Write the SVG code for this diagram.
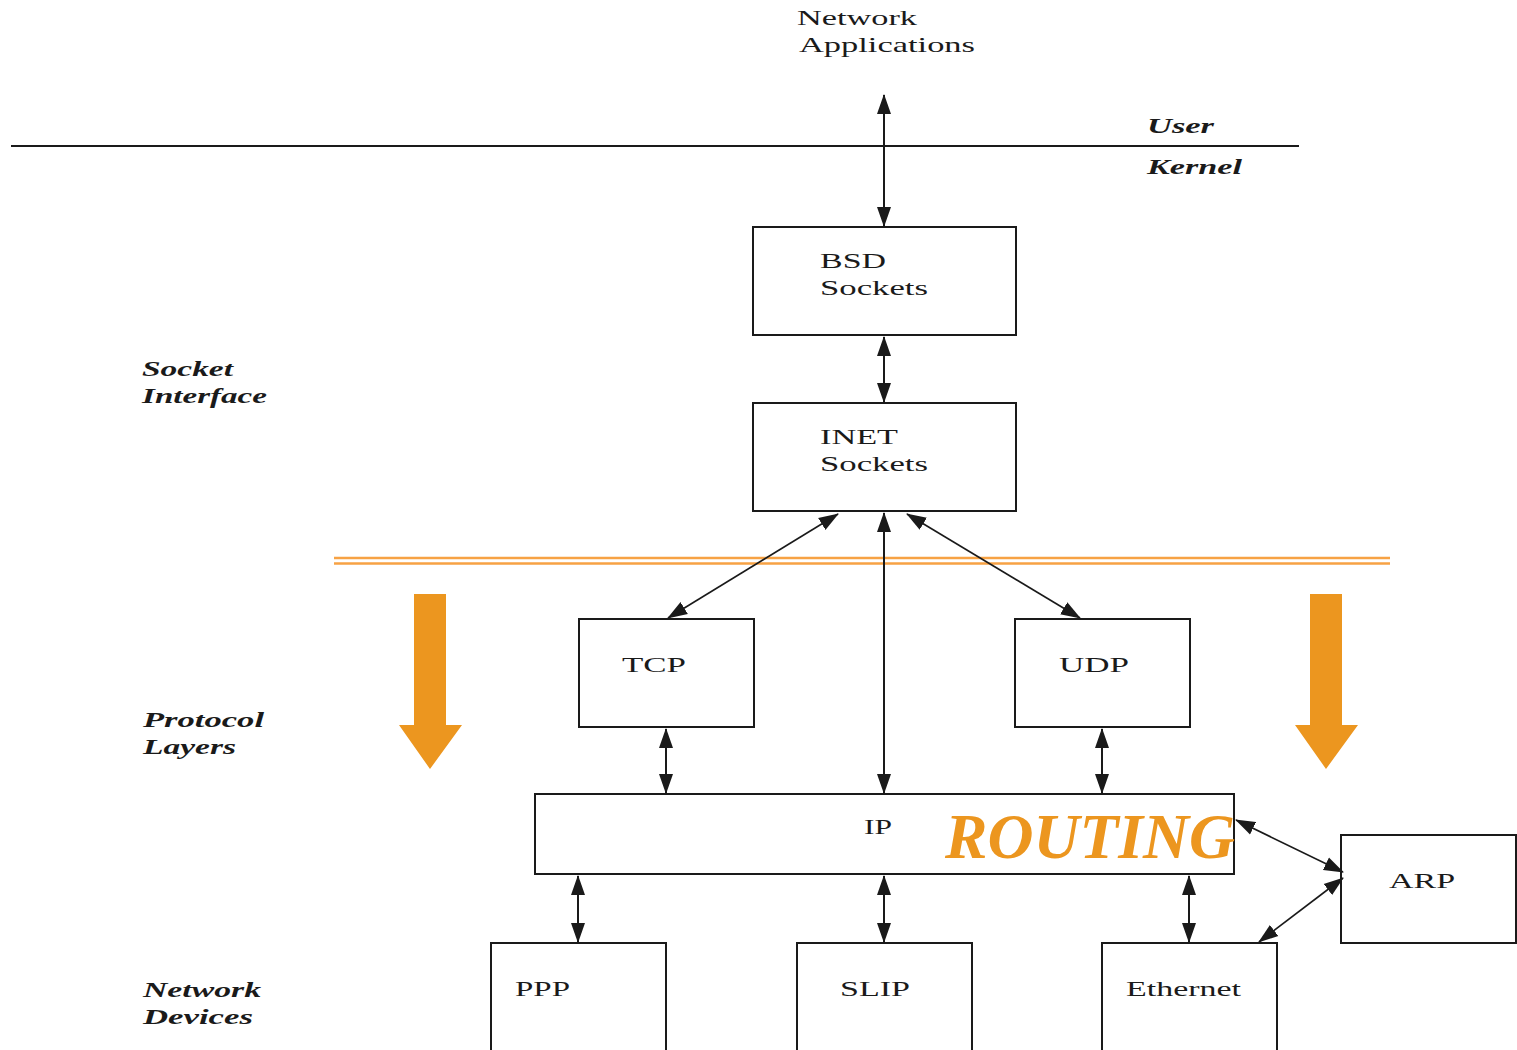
<svg xmlns="http://www.w3.org/2000/svg" width="1517" height="1050" viewBox="0 0 1517 1050">
<style>
.box{fill:#fff;stroke:#1a1a1a;stroke-width:2}
.t{font-family:"Liberation Serif",serif;font-size:22px;fill:#1a1a1a}
.it{font-family:"Liberation Serif",serif;font-style:italic;font-weight:bold;font-size:22px;fill:#1a1a1a}
.c{stroke:#1a1a1a;stroke-width:2;fill:none;marker-start:url(#ah);marker-end:url(#ah)}
.d{stroke:#1a1a1a;stroke-width:1.6;fill:none;marker-start:url(#ah);marker-end:url(#ah)}
.or{fill:#EC961F}
</style>
<defs>
<marker id="ah" markerUnits="userSpaceOnUse" markerWidth="20" markerHeight="16" refX="19" refY="8" orient="auto-start-reverse" viewBox="0 0 20 16">
<path d="M0,1 L20,8 L0,15 z" fill="#1a1a1a"/>
</marker>
</defs>
<rect width="1517" height="1050" fill="#fff"/>

<g id="boundary">
<line x1="11" y1="146" x2="1299" y2="146" stroke="#1a1a1a" stroke-width="1.8"/>
<text class="it" x="1147" y="133" textLength="67" lengthAdjust="spacingAndGlyphs">User</text>
<text class="it" x="1147" y="174" textLength="95" lengthAdjust="spacingAndGlyphs">Kernel</text>
</g>

<g id="orange-lines">
<line x1="334" y1="558" x2="1390" y2="558" stroke="#F7A244" stroke-width="2.5"/>
<line x1="334" y1="563.5" x2="1390" y2="563.5" stroke="#F7A244" stroke-width="2.5"/>
</g>

<g id="labels">
<text class="t" x="797" y="25" textLength="120" lengthAdjust="spacingAndGlyphs">Network</text>
<text class="t" x="799" y="52" textLength="176" lengthAdjust="spacingAndGlyphs">Applications</text>
<text class="it" x="142" y="376" textLength="91" lengthAdjust="spacingAndGlyphs">Socket</text>
<text class="it" x="142" y="403" textLength="125" lengthAdjust="spacingAndGlyphs">Interface</text>
<text class="it" x="143" y="727" textLength="121" lengthAdjust="spacingAndGlyphs">Protocol</text>
<text class="it" x="143" y="754" textLength="93" lengthAdjust="spacingAndGlyphs">Layers</text>
<text class="it" x="143" y="997" textLength="118" lengthAdjust="spacingAndGlyphs">Network</text>
<text class="it" x="143" y="1024" textLength="110" lengthAdjust="spacingAndGlyphs">Devices</text>
</g>

<g id="bsd">
<rect class="box" x="753" y="227" width="263" height="108"/>
<text class="t" x="820" y="268" textLength="66" lengthAdjust="spacingAndGlyphs">BSD</text>
<text class="t" x="820" y="295" textLength="108" lengthAdjust="spacingAndGlyphs">Sockets</text>
</g>
<g id="inet">
<rect class="box" x="753" y="403" width="263" height="108"/>
<text class="t" x="820" y="444" textLength="78" lengthAdjust="spacingAndGlyphs">INET</text>
<text class="t" x="820" y="471" textLength="108" lengthAdjust="spacingAndGlyphs">Sockets</text>
</g>
<g id="tcp">
<rect class="box" x="579" y="619" width="175" height="108"/>
<text class="t" x="622" y="672" textLength="64" lengthAdjust="spacingAndGlyphs">TCP</text>
</g>
<g id="udp">
<rect class="box" x="1015" y="619" width="175" height="108"/>
<text class="t" x="1059" y="672" textLength="70" lengthAdjust="spacingAndGlyphs">UDP</text>
</g>
<g id="ip">
<rect class="box" x="535" y="794" width="699" height="80"/>
<text class="t" x="864" y="834" textLength="28" lengthAdjust="spacingAndGlyphs">IP</text>
<text x="945" y="858" font-family="Liberation Serif,serif" font-style="italic" font-weight="bold" font-size="64" fill="#EC961F" textLength="290" lengthAdjust="spacingAndGlyphs">ROUTING</text>
</g>
<g id="arp">
<rect class="box" x="1341" y="835" width="175" height="108"/>
<text class="t" x="1389" y="888" textLength="66" lengthAdjust="spacingAndGlyphs">ARP</text>
</g>
<g id="ppp">
<rect class="box" x="491" y="943" width="175" height="120"/>
<text class="t" x="515" y="996" textLength="55" lengthAdjust="spacingAndGlyphs">PPP</text>
</g>
<g id="slip">
<rect class="box" x="797" y="943" width="175" height="120"/>
<text class="t" x="840" y="996" textLength="70" lengthAdjust="spacingAndGlyphs">SLIP</text>
</g>
<g id="ethernet">
<rect class="box" x="1102" y="943" width="175" height="120"/>
<text class="t" x="1126" y="996" textLength="115" lengthAdjust="spacingAndGlyphs">Ethernet</text>
</g>

<g id="orange-arrows">
<path class="or" d="M414,594 H446 V725 H462 L430,769 L399,725 H414 Z"/>
<path class="or" d="M1310,594 H1342 V725 H1358 L1326,769 L1295,725 H1310 Z"/>
</g>

<g id="connectors">
<line class="c" x1="884" y1="95" x2="884" y2="226"/>
<line class="c" x1="884" y1="337" x2="884" y2="402"/>
<line class="d" x1="838" y1="514" x2="668" y2="618"/>
<line class="c" x1="884" y1="513" x2="884" y2="793"/>
<line class="d" x1="907" y1="514" x2="1080" y2="618"/>
<line class="c" x1="666" y1="729" x2="666" y2="793"/>
<line class="c" x1="1102" y1="729" x2="1102" y2="793"/>
<line class="c" x1="578" y1="876" x2="578" y2="942"/>
<line class="c" x1="884" y1="876" x2="884" y2="942"/>
<line class="c" x1="1189" y1="876" x2="1189" y2="942"/>
<line class="d" x1="1236" y1="820" x2="1343" y2="872"/>
<line class="d" x1="1259" y1="942" x2="1343" y2="878"/>
</g>
</svg>
